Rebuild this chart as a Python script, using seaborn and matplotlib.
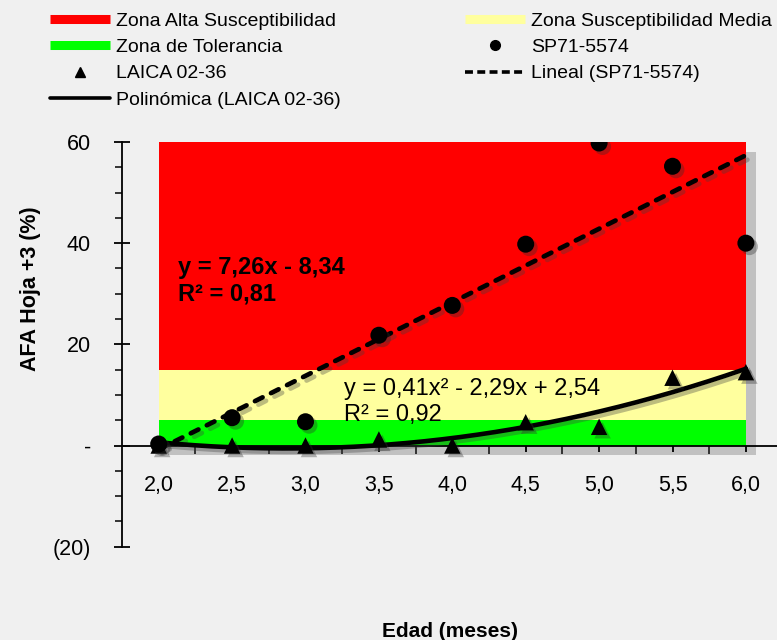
import numpy as np
import pandas as pd
import matplotlib
matplotlib.use("Agg")
import matplotlib.pyplot as plt
import matplotlib.patheffects as pe
from matplotlib.lines import Line2D
from matplotlib.ticker import FixedLocator, MultipleLocator
import seaborn as sns

# --- data ---
edad = [2.0, 2.5, 3.0, 3.5, 4.0, 4.5, 5.0, 5.5, 6.0]
sp71_5574 = [0.3, 5.5, 4.7, 21.8, 27.7, 39.8, 59.8, 55.2, 40.0]
laica_02_36 = [0.0, 0.0, 0.0, 1.2, 0.0, 4.6, 3.7, 13.4, 14.5]

zone_names = ["Zona de Tolerancia", "Zona Susceptibilidad Media", "Zona Alta Susceptibilidad"]
zone_limits = [0, 5, 15, 60]
zone_colors = ["#00ff00", "#ffff9e", "#ff0000"]

y_ticks = [-20, 0, 20, 40, 60]
y_ticklabels = ["(20)", "-", "20", "40", "60"]
x_ticklabels = ["2,0", "2,5", "3,0", "3,5", "4,0", "4,5", "5,0", "5,5", "6,0"]

eq_lineal = "y = 7,26x - 8,34\nR² = 0,81"
eq_poli = "y = 0,41x² - 2,29x + 2,54\nR² = 0,92"

# Excel category axis: points sit at positions 1..n
pos = np.arange(1, len(edad) + 1)
df = pd.DataFrame({"pos": pos, "sp71": sp71_5574, "laica": laica_02_36})

sns.set_theme(style="white")
plt.rcParams["font.family"] = ["Liberation Sans", "DejaVu Sans"]
plt.rcParams["text.color"] = "black"

fig = plt.figure(figsize=(7.77, 6.4), dpi=100, facecolor="#f0f0f0")
ax = fig.add_axes([122 / 777, 93.3 / 640, 655 / 777, 404.7 / 640])
ax.set_facecolor("none")

# soft shadow behind the whole zone block (only the shadow is drawn)
shadow_patch = [pe.SimplePatchShadow(offset=(7, -7), shadow_rgbFace="#6a6a6a", alpha=0.35)]
ax.fill_between(pos, np.full(len(pos), zone_limits[0]), np.full(len(pos), zone_limits[-1]),
                color="white", lw=0, zorder=0.5, path_effects=shadow_patch)

# stacked zones
for i, (name, col) in enumerate(zip(zone_names, zone_colors)):
    lo = np.full(len(pos), zone_limits[i])
    hi = np.full(len(pos), zone_limits[i + 1])
    ax.fill_between(pos, lo, hi, color=col, lw=0, zorder=1)

shadow_line = [pe.SimpleLineShadow(offset=(2.5, -2.5), shadow_color="#404040", alpha=0.35), pe.Normal()]

# trend lines fitted to the data
xs = np.linspace(pos[0], pos[-1], 200)
lin = np.polyfit(pos, sp71_5574, 1)
poly = np.polyfit(pos, laica_02_36, 2)
ax.plot(xs, np.polyval(lin, xs), color="black", lw=3.4, ls=(0, (1.8, 2.0)),
        dash_capstyle="round", zorder=3, path_effects=shadow_line)
ax.plot(xs, np.polyval(poly, xs), color="black", lw=3.3, zorder=3, path_effects=shadow_line)

mark_shadow = [pe.SimplePatchShadow(offset=(2.5, -2.5), shadow_rgbFace="#303030", alpha=0.35), pe.Normal()]
sns.scatterplot(data=df, x="pos", y="laica", marker="^", s=140, color="black",
                edgecolor="none", ax=ax, zorder=4, path_effects=mark_shadow)
sns.scatterplot(data=df, x="pos", y="sp71", marker="o", s=150, color="black",
                edgecolor="none", ax=ax, zorder=5, path_effects=mark_shadow)

# axes
ax.set_xlim(0.5, 0.5 + 655 / 73.4)
ax.set_ylim(-20, 60)
for s in ["top", "right"]:
    ax.spines[s].set_visible(False)
ax.spines["left"].set_color("black")
ax.spines["left"].set_linewidth(1.3)
ax.spines["bottom"].set_position(("data", 0))
ax.spines["bottom"].set_color("black")
ax.spines["bottom"].set_linewidth(1.3)
ax.spines["bottom"].set_zorder(2)

ax.yaxis.set_major_locator(FixedLocator(y_ticks))
ax.set_yticklabels(y_ticklabels)
ax.yaxis.set_minor_locator(MultipleLocator(5))
ax.tick_params(axis="y", which="major", direction="inout", length=11, width=1.3,
               pad=17, labelsize=15.5, colors="black", left=True)
ax.tick_params(axis="y", which="minor", direction="out", length=5, width=1.3, left=True)

ax.xaxis.set_major_locator(FixedLocator(pos))
ax.set_xticklabels(x_ticklabels)
ax.xaxis.set_minor_locator(FixedLocator(pos[:-1] + 0.5))
ax.tick_params(axis="x", which="major", direction="out", length=4, width=1.3,
               pad=17, labelsize=15.5, colors="black", bottom=True)
ax.tick_params(axis="x", which="minor", direction="inout", length=11, width=1.3, bottom=True)

ax.set_xlabel("Edad (meses)", fontsize=15, fontweight="bold", color="black")
ax.set_ylabel("AFA Hoja +3 (%)", fontsize=15.5, fontweight="bold", color="black")
ax.xaxis.set_label_coords(0.5, -0.185)
ax.yaxis.set_label_coords(-0.124, 0.637)

# equations
ax.text(1.26, 32.6, eq_lineal, fontsize=17, fontweight="bold", color="black",
        va="center", ha="left", linespacing=1.2, zorder=6)
ax.text(3.53, 8.6, eq_poli, fontsize=17, color="black", va="center", ha="left",
        linespacing=1.25, zorder=6)

# legend in two blocks like Excel's
def zone_handle(c):
    return Line2D([], [], color=c, lw=6.5, solid_capstyle="butt")

left_h = [zone_handle(zone_colors[2]), zone_handle(zone_colors[0]),
          Line2D([], [], ls="none", marker="^", color="black", markersize=7),
          Line2D([], [], color="black", lw=2.6)]
left_l = [zone_names[2], zone_names[0], "LAICA 02-36", "Polinómica (LAICA 02-36)"]
right_h = [zone_handle(zone_colors[1]),
           Line2D([], [], ls="none", marker="o", color="black", markersize=7),
           Line2D([], [], color="black", lw=2.6, ls=(0, (2.2, 1.2)))]
right_l = [zone_names[1], "SP71-5574", "Lineal (SP71-5574)"]

leg_kw = dict(frameon=False, fontsize=14, handlelength=3.1, handletextpad=0.3,
              labelspacing=0.45, borderpad=0, borderaxespad=0, loc="upper left")
fig.legend(left_h, left_l, bbox_to_anchor=(50 / 777, 1 - 12 / 640), **leg_kw)
fig.legend(right_h, right_l, bbox_to_anchor=(465 / 777, 1 - 12 / 640), **leg_kw)

fig.savefig("out.png", dpi=100, facecolor=fig.get_facecolor())
